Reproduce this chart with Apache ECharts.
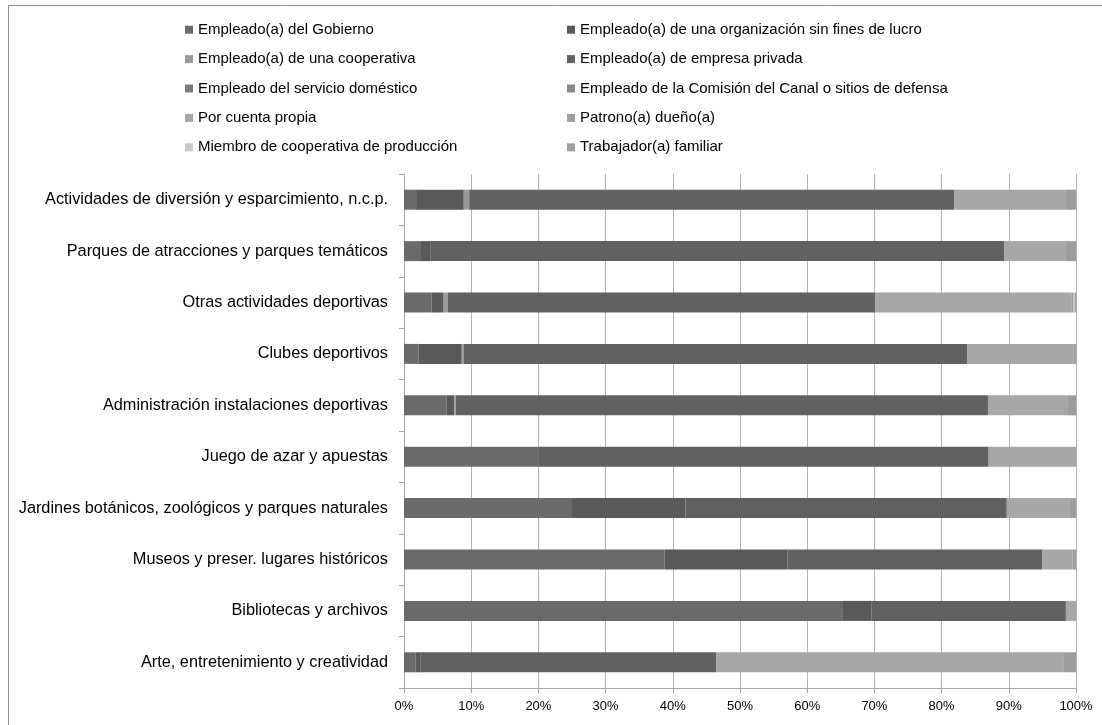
<!DOCTYPE html>
<html>
<head>
<meta charset="utf-8">
<style>
  html, body { margin: 0; padding: 0; background: #ffffff; }
  #chart { width: 1102px; height: 725px; }
</style>
<script src="https://cdn.jsdelivr.net/npm/echarts@6/dist/echarts.min.js"></script>
</head>
<body>
<div id="chart"></div>
<script>
// Activity categories, listed top to bottom
const categories = [
  'Actividades de diversión y esparcimiento, n.c.p.',
  'Parques de atracciones y parques temáticos',
  'Otras actividades deportivas',
  'Clubes deportivos',
  'Administración instalaciones deportivas',
  'Juego de azar y apuestas',
  'Jardines botánicos, zoológicos y parques naturales',
  'Museos y preser. lugares históricos',
  'Bibliotecas y archivos',
  'Arte, entretenimiento y creatividad'
];

// Share of workers (%) by employment category, one value per activity
const gobierno        = [1.8, 2.4, 4.1, 2.2, 6.3, 20.0, 25.0, 38.8, 65.2, 1.7];
const sinFinesLucro   = [7.1, 1.5, 1.8, 6.4, 1.2, 0,    16.9, 18.3, 4.4,  0.8];
const cooperativa     = [0.8, 0,   0.6, 0.3, 0.2, 0,    0,    0,    0,    0];
const empresaPrivada  = [72.2, 85.4, 63.6, 74.9, 79.2, 67.0, 47.8, 37.9, 28.9, 44.0];
const servDomestico   = [0, 0, 0, 0, 0, 0, 0, 0, 0, 0];
const comisionCanal   = [0, 0, 0, 0, 0, 0, 0, 0, 0, 0];
const cuentaPropia    = [16.5, 9.2, 29.2, 15.8, 11.9, 13.0, 9.4, 4.5, 1.5, 51.7];
const patrono         = [1.6, 1.5, 0.3, 0.4, 1.2, 0, 0.9, 0.5, 0, 1.8];
const miembroCoop     = [0, 0, 0.2, 0, 0, 0, 0, 0, 0, 0];
const trabFamiliar    = [0, 0, 0.2, 0, 0, 0, 0, 0, 0, 0];

const seriesNames = [
  'Empleado(a) del Gobierno',
  'Empleado(a) de una organización sin fines de lucro',
  'Empleado(a) de una cooperativa',
  'Empleado(a) de empresa privada',
  'Empleado del servicio doméstico',
  'Empleado de la Comisión del Canal o sitios de defensa',
  'Por cuenta propia',
  'Patrono(a) dueño(a)',
  'Miembro de cooperativa de producción',
  'Trabajador(a) familiar'
];
const seriesValues = [gobierno, sinFinesLucro, cooperativa, empresaPrivada, servDomestico,
                      comisionCanal, cuentaPropia, patrono, miembroCoop, trabFamiliar];
const colors = ['#6b6b6b', '#595959', '#9a9a9a', '#616161', '#7a7a7a',
                '#8a8a8a', '#a7a7a7', '#9d9d9d', '#c8c8c8', '#a0a0a0'];

const xTicks = [0, 10, 20, 30, 40, 50, 60, 70, 80, 90, 100];

const FONT = 'Liberation Sans';
const chart = echarts.init(document.getElementById('chart'), null, { renderer: 'canvas' });

const legendStyle = {
  orient: 'vertical',
  itemWidth: 8,
  itemHeight: 8,
  itemGap: 12,
  icon: 'rect',
  textStyle: { fontFamily: FONT, fontSize: 15, color: '#000', lineHeight: 17.4 },
  selectedMode: false
};

chart.setOption({
  animation: false,
  color: colors,
  graphic: [{
    type: 'rect',
    shape: { x: 8.5, y: 5.5, width: 1200, height: 800 },
    style: { fill: 'none', stroke: '#8c8c8c', lineWidth: 1 },
    silent: true
  }],
  legend: [
    Object.assign({ left: 180, top: 16, data: seriesNames.filter((_, i) => i % 2 === 0) }, legendStyle),
    Object.assign({ left: 562, top: 16, data: seriesNames.filter((_, i) => i % 2 === 1) }, legendStyle)
  ],
  grid: { left: 404, right: 26, top: 174, bottom: 37, containLabel: false },
  xAxis: {
    type: 'value',
    min: 0,
    max: 100,
    interval: 10,
    axisLine: { show: true, lineStyle: { color: '#a6a6a6' } },
    axisTick: { show: true, length: 5, lineStyle: { color: '#a6a6a6' } },
    splitLine: { show: true, lineStyle: { color: '#b3b3b3', width: 1 } },
    axisLabel: {
      fontFamily: FONT, fontSize: 13, color: '#000', margin: 12,
      formatter: v => (xTicks.includes(v) ? v + '%' : '')
    }
  },
  yAxis: {
    type: 'category',
    inverse: true,
    data: categories,
    axisLine: { show: true, lineStyle: { color: '#a6a6a6' } },
    axisTick: { show: true, length: 5, lineStyle: { color: '#a6a6a6' } },
    axisLabel: { fontFamily: FONT, fontSize: 16.3, color: '#000', margin: 16 }
  },
  series: seriesNames.map((name, i) => ({
    name,
    type: 'bar',
    stack: 'total',
    barWidth: 20,
    data: seriesValues[i],
    itemStyle: { color: colors[i] },
    emphasis: { disabled: true }
  }))
});
</script>
</body>
</html>
